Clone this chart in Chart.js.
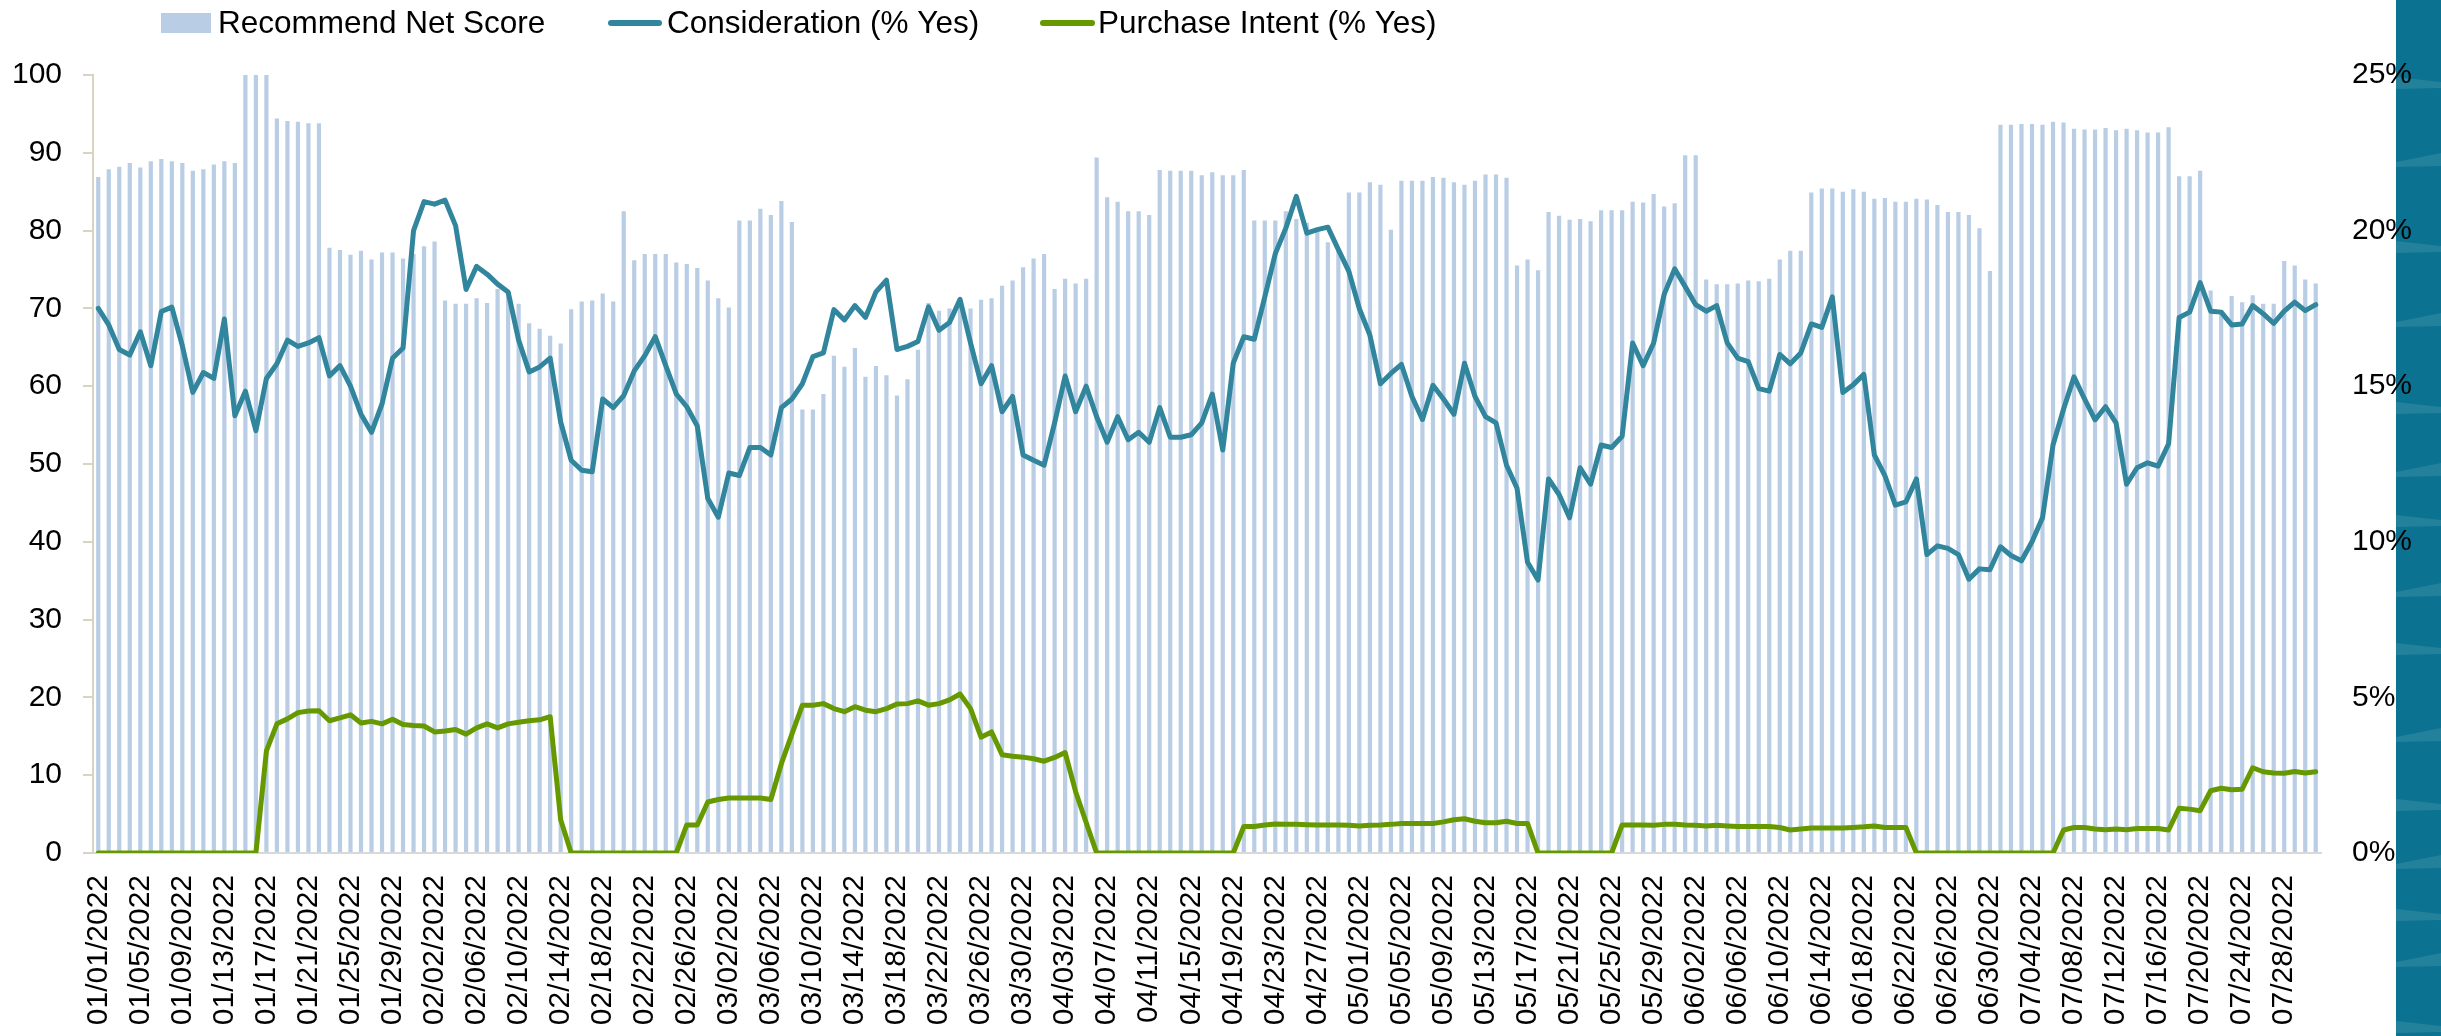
<!DOCTYPE html>
<html><head><meta charset="utf-8">
<script src="https://cdn.jsdelivr.net/npm/chart.js@4.4.1/dist/chart.umd.min.js"></script>
<style>html,body{margin:0;padding:0;background:#fff;overflow:hidden}canvas{display:block}</style>
</head><body>
<canvas id="c" width="2441" height="1036"></canvas>
<script>
const categories = [
"01/01/2022","01/02/2022","01/03/2022","01/04/2022","01/05/2022","01/06/2022","01/07/2022","01/08/2022","01/09/2022","01/10/2022","01/11/2022","01/12/2022","01/13/2022","01/14/2022","01/15/2022","01/16/2022","01/17/2022","01/18/2022","01/19/2022","01/20/2022","01/21/2022","01/22/2022","01/23/2022","01/24/2022","01/25/2022","01/26/2022","01/27/2022","01/28/2022","01/29/2022","01/30/2022","01/31/2022",
"02/01/2022","02/02/2022","02/03/2022","02/04/2022","02/05/2022","02/06/2022","02/07/2022","02/08/2022","02/09/2022","02/10/2022","02/11/2022","02/12/2022","02/13/2022","02/14/2022","02/15/2022","02/16/2022","02/17/2022","02/18/2022","02/19/2022","02/20/2022","02/21/2022","02/22/2022","02/23/2022","02/24/2022","02/25/2022","02/26/2022","02/27/2022","02/28/2022",
"03/01/2022","03/02/2022","03/03/2022","03/04/2022","03/05/2022","03/06/2022","03/07/2022","03/08/2022","03/09/2022","03/10/2022","03/11/2022","03/12/2022","03/13/2022","03/14/2022","03/15/2022","03/16/2022","03/17/2022","03/18/2022","03/19/2022","03/20/2022","03/21/2022","03/22/2022","03/23/2022","03/24/2022","03/25/2022","03/26/2022","03/27/2022","03/28/2022","03/29/2022","03/30/2022","03/31/2022",
"04/01/2022","04/02/2022","04/03/2022","04/04/2022","04/05/2022","04/06/2022","04/07/2022","04/08/2022","04/09/2022","04/10/2022","04/11/2022","04/12/2022","04/13/2022","04/14/2022","04/15/2022","04/16/2022","04/17/2022","04/18/2022","04/19/2022","04/20/2022","04/21/2022","04/22/2022","04/23/2022","04/24/2022","04/25/2022","04/26/2022","04/27/2022","04/28/2022","04/29/2022","04/30/2022",
"05/01/2022","05/02/2022","05/03/2022","05/04/2022","05/05/2022","05/06/2022","05/07/2022","05/08/2022","05/09/2022","05/10/2022","05/11/2022","05/12/2022","05/13/2022","05/14/2022","05/15/2022","05/16/2022","05/17/2022","05/18/2022","05/19/2022","05/20/2022","05/21/2022","05/22/2022","05/23/2022","05/24/2022","05/25/2022","05/26/2022","05/27/2022","05/28/2022","05/29/2022","05/30/2022","05/31/2022",
"06/01/2022","06/02/2022","06/03/2022","06/04/2022","06/05/2022","06/06/2022","06/07/2022","06/08/2022","06/09/2022","06/10/2022","06/11/2022","06/12/2022","06/13/2022","06/14/2022","06/15/2022","06/16/2022","06/17/2022","06/18/2022","06/19/2022","06/20/2022","06/21/2022","06/22/2022","06/23/2022","06/24/2022","06/25/2022","06/26/2022","06/27/2022","06/28/2022","06/29/2022","06/30/2022",
"07/01/2022","07/02/2022","07/03/2022","07/04/2022","07/05/2022","07/06/2022","07/07/2022","07/08/2022","07/09/2022","07/10/2022","07/11/2022","07/12/2022","07/13/2022","07/14/2022","07/15/2022","07/16/2022","07/17/2022","07/18/2022","07/19/2022","07/20/2022","07/21/2022","07/22/2022","07/23/2022","07/24/2022","07/25/2022","07/26/2022","07/27/2022","07/28/2022","07/29/2022","07/30/2022","07/31/2022"
];

// Recommend Net Score (left axis)
const recommendNetScore = [
86.9,87.9,88.2,88.7,88.1,88.9,89.2,88.9,88.7,87.7,87.9,88.5,88.9,88.7,100,100,100,94.4,94.1,94.0,93.8,93.8,77.8,77.5,76.9,77.4,76.3,77.2,77.2,76.4,77.0,
78.0,78.6,71.0,70.6,70.6,71.3,70.7,72.5,72.0,70.6,68.1,67.4,66.5,65.5,69.9,70.9,71.0,71.9,70.9,82.5,76.2,77.0,77.0,77.0,75.9,75.7,75.2,73.6,
71.3,70.1,81.3,81.3,82.8,82.0,83.8,81.1,57.0,57.0,59.0,63.9,62.5,64.9,61.2,62.6,61.4,58.8,60.9,64.7,70.7,69.7,70.0,70.5,70.0,71.1,71.3,72.9,73.6,75.3,76.4,
77.0,72.5,73.8,73.2,73.8,89.4,84.3,83.7,82.5,82.5,82.0,87.8,87.7,87.7,87.7,87.1,87.5,87.1,87.1,87.8,81.3,81.3,81.3,82.5,81.5,81.0,80.0,78.5,77.5,84.9,
84.9,86.2,85.9,80.1,86.4,86.4,86.4,86.9,86.8,86.2,85.9,86.4,87.2,87.2,86.8,75.5,76.3,74.9,82.4,81.9,81.4,81.5,81.2,82.6,82.6,82.6,83.7,83.6,84.7,83.1,83.5,
89.7,89.7,73.7,73.1,73.1,73.2,73.6,73.5,73.8,76.3,77.4,77.4,84.9,85.4,85.4,85.0,85.3,85.0,84.1,84.2,83.7,83.7,84.1,84.0,83.3,82.4,82.4,82.0,80.3,74.8,
93.6,93.6,93.7,93.7,93.6,94.0,93.9,93.1,93.0,93.0,93.2,92.9,93.1,92.9,92.6,92.6,93.3,87.0,87.0,87.7,72.3,69.8,71.6,70.8,71.7,70.6,70.6,76.1,75.5,73.7,73.2
];

// Consideration (% Yes), right axis, percent
const considerationPct = [
17.5,16.97,16.18,16.0,16.75,15.66,17.4,17.54,16.3,14.8,15.44,15.25,17.16,14.05,14.84,13.57,15.25,15.72,16.48,16.28,16.39,16.56,15.33,15.66,15.0,14.1,13.52,14.43,15.9,16.23,20.0,
20.93,20.85,20.98,20.16,18.11,18.85,18.6,18.28,18.03,16.48,15.46,15.62,15.9,13.85,12.62,12.3,12.25,14.59,14.31,14.7,15.49,15.98,16.59,15.66,14.75,14.34,13.72,11.39,
10.79,12.21,12.13,13.03,13.03,12.79,14.31,14.59,15.08,15.95,16.07,17.46,17.13,17.59,17.21,18.03,18.41,16.18,16.28,16.44,17.55,16.8,17.05,17.79,16.39,15.08,15.66,14.18,14.67,12.79,12.62,
12.46,13.82,15.33,14.18,15.0,14.02,13.2,14.02,13.28,13.52,13.2,14.31,13.36,13.36,13.44,13.82,14.75,12.95,15.74,16.59,16.51,17.87,19.26,20.08,21.1,19.92,20.03,20.11,19.39,18.69,
17.49,16.64,15.08,15.41,15.7,14.67,13.93,15.03,14.59,14.1,15.74,14.67,14.02,13.82,12.46,11.72,9.34,8.77,12.02,11.52,10.77,12.38,11.85,13.11,13.03,13.39,16.39,15.66,16.39,17.95,18.77,
18.2,17.62,17.41,17.59,16.39,15.9,15.79,14.92,14.84,16.02,15.72,16.07,17.0,16.89,17.87,14.8,15.05,15.38,12.79,12.13,11.18,11.28,12.02,9.59,9.87,9.79,9.59,8.8,9.13,9.1,
9.84,9.56,9.39,10.0,10.77,13.11,14.26,15.3,14.59,13.92,14.34,13.82,11.85,12.38,12.54,12.43,13.15,17.21,17.38,18.33,17.41,17.38,16.97,17.0,17.59,17.33,17.02,17.41,17.7,17.43,17.62
];

// Purchase Intent (% Yes), right axis, percent
const purchaseIntentPct = [
0,0,0,0,0,0,0,0,0,0,0,0,0,0,0,0,3.28,4.15,4.31,4.51,4.56,4.57,4.25,4.34,4.44,4.18,4.23,4.15,4.3,4.13,4.1,
4.08,3.89,3.92,3.97,3.82,4.02,4.15,4.02,4.15,4.2,4.25,4.28,4.38,1.07,0,0,0,0,0,0,0,0,0,0,0,0.9,0.9,1.64,
1.72,1.77,1.77,1.77,1.77,1.72,2.87,3.82,4.75,4.75,4.8,4.64,4.54,4.7,4.59,4.54,4.64,4.79,4.8,4.89,4.75,4.8,4.92,5.11,4.64,3.72,3.89,3.16,3.11,3.08,3.03,
2.95,3.07,3.23,1.97,0.98,0,0,0,0,0,0,0,0,0,0,0,0,0,0,0.85,0.85,0.9,0.93,0.92,0.92,0.91,0.9,0.9,0.9,0.89,
0.87,0.89,0.9,0.92,0.95,0.95,0.95,0.95,1.0,1.07,1.1,1.02,0.97,0.97,1.02,0.95,0.95,0,0,0,0,0,0,0,0,0.9,0.9,0.9,0.89,0.92,0.92,
0.9,0.89,0.87,0.89,0.87,0.85,0.85,0.85,0.85,0.82,0.74,0.77,0.8,0.8,0.8,0.8,0.82,0.84,0.87,0.82,0.82,0.82,0,0,0,0,0,0,0,0,
0,0,0,0,0,0,0.74,0.82,0.82,0.77,0.75,0.77,0.75,0.79,0.79,0.79,0.74,1.44,1.41,1.36,2.0,2.08,2.03,2.05,2.74,2.61,2.57,2.56,2.62,2.57,2.61
];

const leftTickValues = [0,10,20,30,40,50,60,70,80,90,100];
const rightTickLabels = ["0%","5%","10%","15%","20%","25%"];
const seriesNames = ["Recommend Net Score","Consideration (% Yes)","Purchase Intent (% Yes)"];

const FONT = '"Liberation Sans", Arial, Helvetica, sans-serif';
const COL_BAR = '#B9CDE5', COL_CONS = '#31859C', COL_PI = '#669900';

const stripPlugin = {
  id: 'strip',
  beforeDraw(chart) {
    const ctx = chart.ctx, W = chart.width, H = chart.height;
    ctx.save();
    ctx.fillStyle = '#ffffff';
    ctx.fillRect(0, 0, W, H);
    const x0 = 2396;
    ctx.fillStyle = '#0B7391';
    ctx.fillRect(x0, 0, W - x0, H);
    const streaks = [80,158,244,318,405,468,518,588,646,733,802,860,912,958,1024];
    ctx.fillStyle = 'rgba(255,255,255,0.10)';
    streaks.forEach((y, k) => {
      ctx.beginPath();
      ctx.moveTo(x0, y + (k % 2 ? 4 : -3));
      ctx.lineTo(W, y - (k % 2 ? 5 : -2));
      ctx.lineTo(W, y + 8);
      ctx.lineTo(x0, y + 9);
      ctx.closePath();
      ctx.fill();
    });
    ctx.restore();
  }
};

const legendPlugin = {
  id: 'customLegend',
  afterDraw(chart) {
    const ctx = chart.ctx;
    const ds = chart.data.datasets;
    const items = [
      {mx: 161, mw: 50, tx: 218, type: 'box'},
      {mx: 608, mw: 54, tx: 667, type: 'line'},
      {mx: 1040, mw: 55, tx: 1098, type: 'line'}
    ];
    const cy = 23;
    ctx.save();
    ctx.font = '31.5px ' + FONT;
    ctx.textBaseline = 'middle';
    ctx.textAlign = 'left';
    items.forEach((it, k) => {
      const d = ds[k];
      if (it.type === 'box') {
        ctx.fillStyle = d.backgroundColor;
        ctx.fillRect(it.mx, cy - 10, it.mw, 20);
      } else {
        ctx.strokeStyle = d.borderColor;
        ctx.lineWidth = 6;
        ctx.lineCap = 'round';
        ctx.beginPath();
        ctx.moveTo(it.mx + 3, cy);
        ctx.lineTo(it.mx + it.mw - 3, cy);
        ctx.stroke();
      }
      ctx.fillStyle = '#000';
      ctx.fillText(d.label, it.tx, cy + 1);
    });
    ctx.restore();
  }
};

new Chart(document.getElementById('c'), {
  type: 'bar',
  data: {
    labels: categories,
    datasets: [
      {label: seriesNames[0], data: recommendNetScore, backgroundColor: COL_BAR, yAxisID: 'y',
       barPercentage: 0.4, categoryPercentage: 1.0, order: 3},
      {label: seriesNames[1], type: 'line', data: considerationPct, borderColor: COL_CONS, backgroundColor: COL_CONS,
       yAxisID: 'y1', borderWidth: 5, pointRadius: 0, tension: 0, borderJoinStyle: 'round', borderCapStyle: 'round', order: 2},
      {label: seriesNames[2], type: 'line', data: purchaseIntentPct, borderColor: COL_PI, backgroundColor: COL_PI,
       yAxisID: 'y1', borderWidth: 5, pointRadius: 0, tension: 0, borderJoinStyle: 'round', borderCapStyle: 'round', order: 1}
    ]
  },
  options: {
    responsive: false,
    devicePixelRatio: 1,
    animation: false,
    layout: {padding: {top: 75, left: 0, right: 0, bottom: 0}},
    plugins: {legend: {display: false}, tooltip: {enabled: false}},
    scales: {
      x: {
        grid: {display: false, drawTicks: false},
        border: {color: '#D9D9D9', width: 2},
        ticks: {
          autoSkip: false, maxRotation: 90, minRotation: 90, padding: 22, color: '#000',
          font: {family: FONT, size: 30},
          callback: (v, i) => (i % 4 === 0 ? categories[i] : '')
        },
        afterFit: s => { s.height = 183; }
      },
      y: {
        position: 'left', min: 0, max: 100,
        afterBuildTicks: s => { s.ticks = leftTickValues.map(v => ({value: v})); },
        ticks: {padding: 21, color: '#000', font: {family: FONT, size: 30}},
        grid: {drawOnChartArea: false, drawTicks: true, tickLength: 10, color: '#D9D4C1', lineWidth: 2},
        border: {color: '#D9D4C1', width: 2},
        afterFit: s => { s.width = 93; }
      },
      y1: {
        position: 'right', min: 0, max: 25,
        afterBuildTicks: s => { s.ticks = rightTickLabels.map((t, k) => ({value: k * 5})); },
        ticks: {padding: 31, color: '#000', font: {family: FONT, size: 30},
                callback: (v, i) => rightTickLabels[i]},
        grid: {display: false, drawTicks: false},
        border: {display: false},
        afterFit: s => { s.width = 120; }
      }
    }
  },
  plugins: [stripPlugin, legendPlugin]
});
</script>
</body></html>
